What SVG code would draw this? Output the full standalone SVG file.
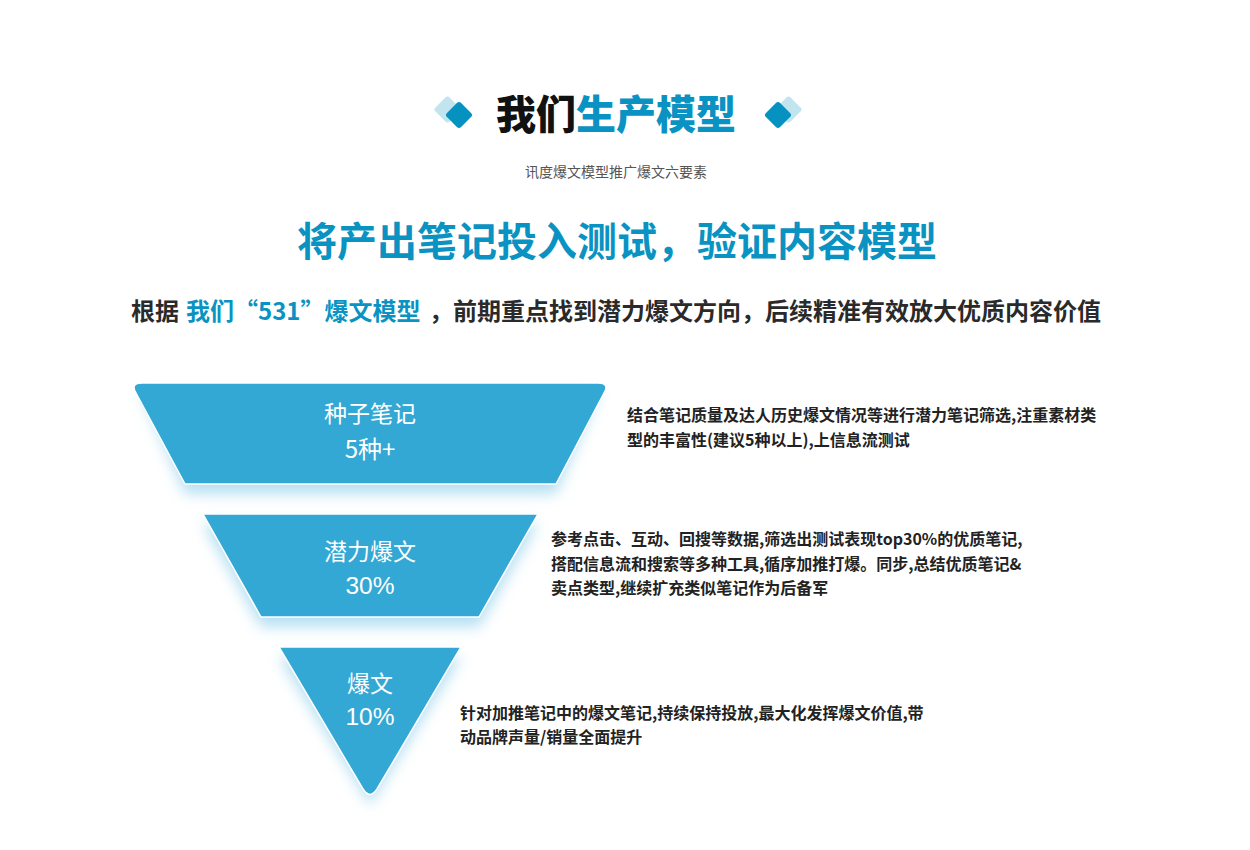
<svg xmlns="http://www.w3.org/2000/svg" width="1250" height="850" viewBox="0 0 1250 850">
<defs>
<filter id="glow" x="-20%" y="-20%" width="140%" height="150%">
<feGaussianBlur stdDeviation="7"/>
</filter>
<style>
.cjk{font-family:"Noto Sans CJK SC","Liberation Sans",sans-serif;}
.title{font-size:40px;font-weight:900;}
.blue{fill:#0a93c2;}
.dark{fill:#111;}
.sub{font-size:14px;fill:#555;}
.lead{font-size:24px;font-weight:700;fill:#2a2a2a;}
.desc{font-size:16px;font-weight:700;fill:#222;}
.lbl{font-size:23px;fill:#fff;text-anchor:middle;}
.num{font-family:"Liberation Sans","Noto Sans CJK SC",sans-serif;font-size:24.5px;fill:#fff;text-anchor:middle;}
.shape{fill:#33a8d4;stroke:#ffffff;stroke-width:1.5;}
.halo{fill:#9fd6ee;opacity:0.75;filter:url(#glow);}
.dd{fill:#0592c1;}
.dl{fill:#c2e4ef;}
</style>
</defs>
<rect width="1250" height="850" fill="#ffffff"/>

<g id="header">
<rect class="dl" x="437.5" y="99.5" width="20" height="20" rx="3" transform="rotate(45 447.5 109.5)"/>
<rect class="dd" x="449" y="105" width="20" height="20" rx="3" transform="rotate(45 459 115)"/>
<rect class="dl" x="778.5" y="99.5" width="20" height="20" rx="3" transform="rotate(45 788.5 109.5)"/>
<rect class="dd" x="768" y="105" width="20" height="20" rx="3" transform="rotate(45 778 115)"/>
<text class="cjk title" x="616" y="129" text-anchor="middle"><tspan class="dark">我们</tspan><tspan class="blue">生产模型</tspan></text>
<text class="cjk sub" x="616" y="177" text-anchor="middle">讯度爆文模型推广爆文六要素</text>
<text class="cjk title blue" x="617" y="256" text-anchor="middle" style="font-weight:700">将产出笔记投入测试，验证内容模型</text>
<text class="cjk lead" x="131" y="320"><tspan>根据</tspan><tspan x="186" class="blue">我们“531”爆文模型</tspan><tspan x="429">，前期重点找到潜力爆文方向，后续精准有效放大优质内容价值</tspan></text>
</g>

<g id="halos">
<path class="halo" d="M141,393 H599 L556,494 H185 Z"/>
<path class="halo" d="M203,524 H538 L479,627 H261 Z"/>
<path class="halo" d="M279,657 H461 L370,805 Z"/>
</g>

<g id="node-seed">
<path class="shape" d="M142,383 H598 Q610,383 604,393 L556,484 H185 L136,393 Q130,383 142,383 Z"/>
<text class="cjk lbl" x="370" y="422">种子笔记</text>
<text class="cjk lbl" x="370" y="458" style="font-size:24px">5种+</text>
</g>

<g id="node-potential">
<path class="shape" d="M203,514 H538 L479,617 H261 Z"/>
<text class="cjk lbl" x="370" y="560">潜力爆文</text>
<text class="num" x="370" y="594">30%</text>
</g>

<g id="node-hit">
<path class="shape" d="M279,647 H461 L377,789 Q370,800 363,789 Z"/>
<text class="cjk lbl" x="370" y="692">爆文</text>
<text class="num" x="370" y="725">10%</text>
</g>

<g id="descriptions">
<text class="cjk desc" x="627" y="421">结合笔记质量及达人历史爆文情况等进行潜力笔记筛选,注重素材类</text>
<text class="cjk desc" x="627" y="446">型的丰富性(建议5种以上),上信息流测试</text>
<text class="cjk desc" x="551" y="545">参考点击、互动、回搜等数据,筛选出测试表现top30%的优质笔记,</text>
<text class="cjk desc" x="551" y="570">搭配信息流和搜索等多种工具,循序加推打爆。同步,总结优质笔记&amp;</text>
<text class="cjk desc" x="551" y="594">卖点类型,继续扩充类似笔记作为后备军</text>
<text class="cjk desc" x="460" y="719">针对加推笔记中的爆文笔记,持续保持投放,最大化发挥爆文价值,带</text>
<text class="cjk desc" x="460" y="743">动品牌声量/销量全面提升</text>
</g>

<g id="connectors"></g>
</svg>
